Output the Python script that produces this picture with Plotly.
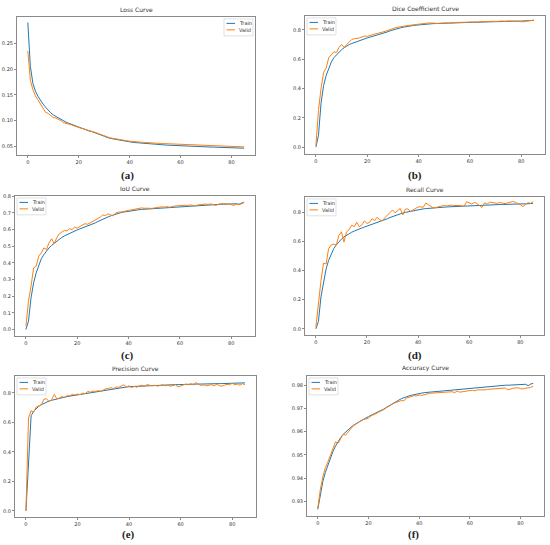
import plotly.graph_objects as go

W, H = 550, 545
epochs = list(range(86))

loss_train = [0.290,0.205,0.172,0.157,0.147,0.139,0.132,0.126,0.120,0.115,0.111,0.108,0.105,0.102,0.099,0.097,0.095,0.093,0.091,0.089,
0.087,0.086,0.084,0.082,0.080,0.079,0.077,0.075,0.073,0.071,0.069,0.068,0.066,0.065,0.064,0.063,0.062,0.061,0.060,0.059,
0.0585,0.058,0.0575,0.057,0.0565,0.056,0.0555,0.055,0.0547,0.0543,0.054,0.0537,0.0533,0.053,0.0527,0.0524,0.0521,0.0518,0.0515,0.0512,
0.051,0.0508,0.0506,0.0504,0.0502,0.050,0.0498,0.0496,0.0494,0.0492,0.049,0.0489,0.0487,0.0486,0.0485,0.0483,0.0482,0.048,0.0479,0.0478,
0.0476,0.0475,0.0473,0.0472,0.047,0.0465]
loss_valid = [0.235,0.178,0.160,0.148,0.140,0.132,0.126,0.116,0.114,0.109,0.106,0.105,0.103,0.100,0.096,0.095,0.094,0.092,0.090,0.088,
0.086,0.085,0.084,0.082,0.081,0.079,0.078,0.076,0.074,0.072,0.070,0.068,0.067,0.066,0.065,0.064,0.063,0.062,0.061,0.061,
0.060,0.0598,0.059,0.0585,0.058,0.0578,0.0575,0.057,0.0568,0.0565,0.0562,0.056,0.0558,0.0555,0.0553,0.055,0.0545,0.0548,0.0545,0.0542,
0.054,0.0538,0.0535,0.0536,0.0532,0.053,0.0528,0.0527,0.0525,0.0522,0.052,0.0518,0.0516,0.0515,0.0512,0.0508,0.0512,0.051,0.0505,0.0508,
0.051,0.0505,0.050,0.0502,0.0498,0.049]

dice_train = [0.00,0.08,0.30,0.42,0.49,0.54,0.58,0.61,0.63,0.65,0.665,0.678,0.69,0.70,0.707,0.714,0.72,0.727,0.733,0.739,
0.745,0.75,0.755,0.76,0.764,0.768,0.774,0.78,0.787,0.794,0.80,0.805,0.81,0.814,0.818,0.822,0.825,0.828,0.83,0.832,
0.834,0.836,0.838,0.84,0.841,0.842,0.843,0.843,0.844,0.844,0.845,0.846,0.847,0.847,0.848,0.848,0.849,0.849,0.85,0.85,
0.851,0.851,0.852,0.852,0.853,0.853,0.854,0.854,0.855,0.855,0.856,0.856,0.857,0.857,0.857,0.858,0.858,0.859,0.859,0.86,
0.86,0.861,0.861,0.862,0.863,0.865]
dice_valid = [0.01,0.25,0.40,0.51,0.54,0.61,0.63,0.65,0.645,0.68,0.70,0.68,0.70,0.72,0.735,0.74,0.74,0.745,0.752,0.758,
0.755,0.762,0.768,0.772,0.776,0.778,0.785,0.79,0.797,0.805,0.81,0.815,0.818,0.822,0.826,0.828,0.83,0.832,0.835,0.836,
0.838,0.84,0.842,0.845,0.847,0.848,0.846,0.844,0.846,0.845,0.847,0.848,0.846,0.85,0.849,0.851,0.85,0.852,0.853,0.852,
0.854,0.853,0.855,0.854,0.856,0.855,0.857,0.856,0.858,0.857,0.859,0.858,0.86,0.858,0.859,0.861,0.86,0.858,0.861,0.86,
0.858,0.855,0.859,0.862,0.863,0.866]

iou_train = [0.0,0.05,0.19,0.28,0.34,0.39,0.425,0.45,0.472,0.49,0.505,0.518,0.53,0.542,0.553,0.562,0.57,0.578,0.585,0.592,
0.598,0.604,0.61,0.615,0.62,0.625,0.632,0.64,0.648,0.656,0.664,0.67,0.676,0.682,0.688,0.693,0.698,0.702,0.705,0.708,
0.711,0.713,0.715,0.717,0.719,0.721,0.722,0.724,0.725,0.727,0.728,0.729,0.73,0.732,0.733,0.734,0.735,0.736,0.737,0.738,
0.739,0.74,0.741,0.742,0.743,0.744,0.745,0.746,0.747,0.747,0.748,0.749,0.749,0.75,0.751,0.751,0.752,0.752,0.753,0.753,
0.754,0.755,0.755,0.752,0.758,0.765]
iou_valid = [0.02,0.17,0.26,0.37,0.38,0.44,0.46,0.49,0.48,0.52,0.545,0.515,0.55,0.575,0.585,0.595,0.592,0.605,0.60,0.615,
0.608,0.62,0.628,0.635,0.632,0.64,0.648,0.655,0.668,0.675,0.688,0.684,0.695,0.69,0.682,0.70,0.705,0.705,0.71,0.712,
0.715,0.718,0.722,0.728,0.73,0.73,0.728,0.726,0.728,0.727,0.73,0.732,0.734,0.737,0.735,0.738,0.734,0.74,0.742,0.743,
0.745,0.744,0.746,0.745,0.748,0.745,0.743,0.748,0.75,0.752,0.753,0.751,0.754,0.75,0.745,0.752,0.755,0.757,0.753,0.756,
0.75,0.745,0.752,0.75,0.755,0.762]

recall_train = [0.0,0.05,0.22,0.33,0.41,0.47,0.515,0.55,0.575,0.597,0.615,0.63,0.642,0.653,0.662,0.67,0.678,0.685,0.692,0.698,
0.704,0.71,0.716,0.722,0.727,0.733,0.74,0.747,0.755,0.763,0.77,0.777,0.783,0.789,0.794,0.798,0.802,0.806,0.81,0.813,
0.816,0.819,0.822,0.824,0.826,0.828,0.83,0.831,0.832,0.833,0.834,0.835,0.836,0.837,0.838,0.839,0.84,0.841,0.842,0.843,
0.844,0.845,0.846,0.846,0.847,0.848,0.848,0.849,0.85,0.85,0.851,0.851,0.852,0.852,0.853,0.853,0.854,0.854,0.855,0.855,
0.856,0.856,0.857,0.857,0.858,0.86]
recall_valid = [0.01,0.18,0.33,0.45,0.445,0.55,0.575,0.58,0.575,0.64,0.665,0.595,0.665,0.68,0.71,0.70,0.73,0.70,0.712,0.74,
0.722,0.73,0.755,0.742,0.765,0.745,0.742,0.762,0.778,0.795,0.815,0.795,0.81,0.825,0.78,0.82,0.822,0.805,0.815,0.828,
0.835,0.836,0.833,0.862,0.85,0.84,0.828,0.832,0.838,0.842,0.845,0.842,0.846,0.848,0.845,0.848,0.846,0.843,0.84,0.872,
0.862,0.855,0.866,0.86,0.845,0.832,0.864,0.855,0.868,0.865,0.858,0.86,0.866,0.862,0.858,0.864,0.868,0.872,0.868,0.86,
0.85,0.838,0.855,0.865,0.86,0.872]

precision_train = [0.0,0.32,0.645,0.675,0.695,0.71,0.72,0.73,0.738,0.745,0.75,0.755,0.76,0.764,0.768,0.772,0.775,0.778,0.781,0.784,
0.787,0.79,0.793,0.796,0.799,0.802,0.805,0.808,0.811,0.814,0.817,0.82,0.823,0.826,0.829,0.832,0.834,0.836,0.838,0.84,
0.842,0.843,0.844,0.845,0.846,0.847,0.848,0.849,0.85,0.851,0.852,0.852,0.853,0.853,0.854,0.854,0.855,0.855,0.856,0.856,
0.857,0.857,0.858,0.858,0.859,0.859,0.86,0.86,0.86,0.861,0.861,0.861,0.862,0.862,0.862,0.863,0.863,0.863,0.864,0.864,
0.864,0.865,0.865,0.866,0.866,0.868]
precision_valid = [0.0,0.63,0.68,0.67,0.705,0.71,0.72,0.758,0.76,0.74,0.755,0.79,0.76,0.765,0.775,0.768,0.782,0.78,0.79,0.785,
0.792,0.788,0.798,0.795,0.81,0.805,0.812,0.81,0.815,0.81,0.822,0.828,0.83,0.835,0.83,0.84,0.838,0.848,0.855,0.84,
0.848,0.835,0.845,0.838,0.848,0.852,0.845,0.856,0.85,0.848,0.852,0.846,0.85,0.855,0.848,0.852,0.845,0.85,0.855,0.84,
0.848,0.855,0.86,0.855,0.862,0.855,0.87,0.858,0.85,0.855,0.848,0.852,0.856,0.848,0.858,0.85,0.845,0.852,0.858,0.855,
0.865,0.855,0.86,0.852,0.862,0.856]

acc_train = [0.9265,0.9325,0.9385,0.9425,0.9458,0.9488,0.9515,0.9538,0.9558,0.9574,0.9588,0.9599,0.9609,0.9618,0.9627,0.9634,0.9641,0.9647,0.9653,0.9659,
0.9665,0.967,0.9675,0.968,0.9685,0.969,0.9697,0.9704,0.9711,0.9718,0.9724,0.973,0.9736,0.9742,0.9747,0.9751,0.9754,0.9757,0.976,0.9762,
0.9764,0.9766,0.9768,0.9769,0.9771,0.9772,0.9773,0.9775,0.9776,0.9777,0.9778,0.9779,0.978,0.9781,0.9782,0.9783,0.9784,0.9785,0.9786,0.9787,
0.9788,0.9789,0.979,0.979,0.9791,0.9792,0.9793,0.9793,0.9794,0.9795,0.9797,0.9798,0.9798,0.9799,0.98,0.98,0.9801,0.9801,0.9802,0.9802,
0.9803,0.9803,0.9804,0.9798,0.9805,0.9808]
acc_valid = [0.927,0.935,0.9405,0.9445,0.947,0.95,0.9525,0.9556,0.955,0.957,0.9588,0.9585,0.9598,0.9608,0.9625,0.9632,0.964,0.9648,0.9652,0.9655,
0.9658,0.9668,0.9672,0.9678,0.9684,0.9688,0.9695,0.9703,0.971,0.9716,0.9722,0.9726,0.973,0.9734,0.9733,0.9745,0.9748,0.9752,0.9755,0.9754,
0.9758,0.9756,0.976,0.9763,0.9765,0.9766,0.9767,0.9768,0.9767,0.977,0.9771,0.977,0.9773,0.9772,0.9768,0.9775,0.977,0.9772,0.9776,0.9775,
0.9777,0.9778,0.9776,0.978,0.9779,0.9781,0.978,0.9782,0.9783,0.9784,0.9786,0.9785,0.9787,0.9786,0.9788,0.978,0.9785,0.9787,0.9788,0.9789,
0.9785,0.9784,0.9787,0.9788,0.979,0.9796]

titles = ["Loss Curve", "Dice Coefficient Curve", "IoU Curve", "Recall Curve", "Precision Curve", "Accuracy Curve"]
labels = ["(a)", "(b)", "(c)", "(d)", "(e)", "(f)"]
series_names = ["Train", "Valid"]
series = [(loss_train, loss_valid), (dice_train, dice_valid), (iou_train, iou_valid),
          (recall_train, recall_valid), (precision_train, precision_valid), (acc_train, acc_valid)]
ytickvals = [[0.05, 0.10, 0.15, 0.20, 0.25], [0.0, 0.2, 0.4, 0.6, 0.8],
             [0.0, 0.1, 0.2, 0.3, 0.4, 0.5, 0.6, 0.7, 0.8], [0.0, 0.2, 0.4, 0.6, 0.8],
             [0.0, 0.2, 0.4, 0.6, 0.8], [0.93, 0.94, 0.95, 0.96, 0.97, 0.98]]
yfmt = [".2f", ".1f", ".1f", ".1f", ".1f", ".2f"]
yranges = [[0.033, 0.301], [-0.048, 0.895], [-0.040, 0.802], [-0.043, 0.904], [-0.043, 0.915], [0.9236, 0.9840]]

# pixel boxes of axes: (left, right, top, bottom)
boxes = [(17, 255, 14, 153), (305, 545, 13, 152), (15, 255, 194, 335),
         (305, 544, 195, 334), (15, 256, 375, 517), (307, 544, 375, 516)]
label_pos = [(127, 173), (415, 173), (127, 354), (415, 354), (128, 534), (413, 534)]
legend_right = [True, False, False, False, False, False]

BLUE = "#1f77b4"
ORANGE = "#ff7f0e"
COLORS = [BLUE, ORANGE]
FRAME = "#8a8a8a"
TXT = "#333333"

fig = go.Figure()
annotations = []
shapes = []
layout = dict(width=W, height=H, margin=dict(l=0, r=0, t=0, b=0), showlegend=False,
              paper_bgcolor="white", plot_bgcolor="white",
              font=dict(family="DejaVu Sans", color=TXT, size=5))

def px(x):
    return x / W

def py(y):
    return 1 - y / H

for i in range(6):
    k = "" if i == 0 else str(i + 1)
    for j in range(2):
        fig.add_trace(go.Scatter(x=epochs, y=series[i][j], mode="lines", name=series_names[j],
                                 line=dict(color=COLORS[j], width=1), xaxis="x" + k, yaxis="y" + k))
    l, r, t, b = boxes[i]
    axcommon = dict(showline=True, linecolor=FRAME, linewidth=1, mirror=True, showgrid=False,
                    zeroline=False, ticks="outside", ticklen=2, tickwidth=0.8, tickcolor=FRAME,
                    tickfont=dict(size=5, color=TXT, family="DejaVu Sans"))
    layout["xaxis" + k] = dict(domain=[px(l), px(r)], range=[-4.25, 89.25], tickvals=[0, 20, 40, 60, 80],
                               anchor="y" + k, **axcommon)
    layout["yaxis" + k] = dict(domain=[py(b), py(t)], range=yranges[i], tickvals=ytickvals[i],
                               tickformat=yfmt[i], anchor="x" + k, **axcommon)
    # legend box (drawn like matplotlib's small legend)
    bx0 = (r - 31) if legend_right[i] else (l + 2)
    bx1 = bx0 + 29
    shapes.append(dict(type="rect", xref="paper", yref="paper", x0=px(bx0), x1=px(bx1),
                       y0=py(t + 19), y1=py(t + 2), fillcolor="rgba(255,255,255,0.85)",
                       line=dict(color="#cccccc", width=0.6), layer="above"))
    for j in range(2):
        yy = t + 6.5 + j * 6.5
        shapes.append(dict(type="line", xref="paper", yref="paper", x0=px(bx0 + 2.5), x1=px(bx0 + 11),
                           y0=py(yy), y1=py(yy), line=dict(color=COLORS[j], width=1), layer="above"))
        annotations.append(dict(text=series_names[j], x=px(bx0 + 13), y=py(yy), xref="paper", yref="paper",
                                xanchor="left", yanchor="middle", showarrow=False,
                                font=dict(size=5, family="DejaVu Sans", color=TXT)))
    annotations.append(dict(text=titles[i], x=px((l + r) / 2), y=py(t - 1.5), xref="paper", yref="paper",
                            xanchor="center", yanchor="bottom", showarrow=False,
                            font=dict(size=6, family="DejaVu Sans", color=TXT)))
    lx2, ly2 = label_pos[i]
    annotations.append(dict(text="<b>" + labels[i] + "</b>", x=px(lx2), y=py(ly2), xref="paper", yref="paper",
                            xanchor="center", yanchor="middle", showarrow=False,
                            font=dict(size=11, family="Liberation Serif", color="#222222")))

layout["annotations"] = annotations
layout["shapes"] = shapes
fig.update_layout(**layout)
fig.write_html("out.html", config={"displayModeBar": False},
               post_script="document.body.style.margin='0px';document.body.style.overflow='hidden';")
